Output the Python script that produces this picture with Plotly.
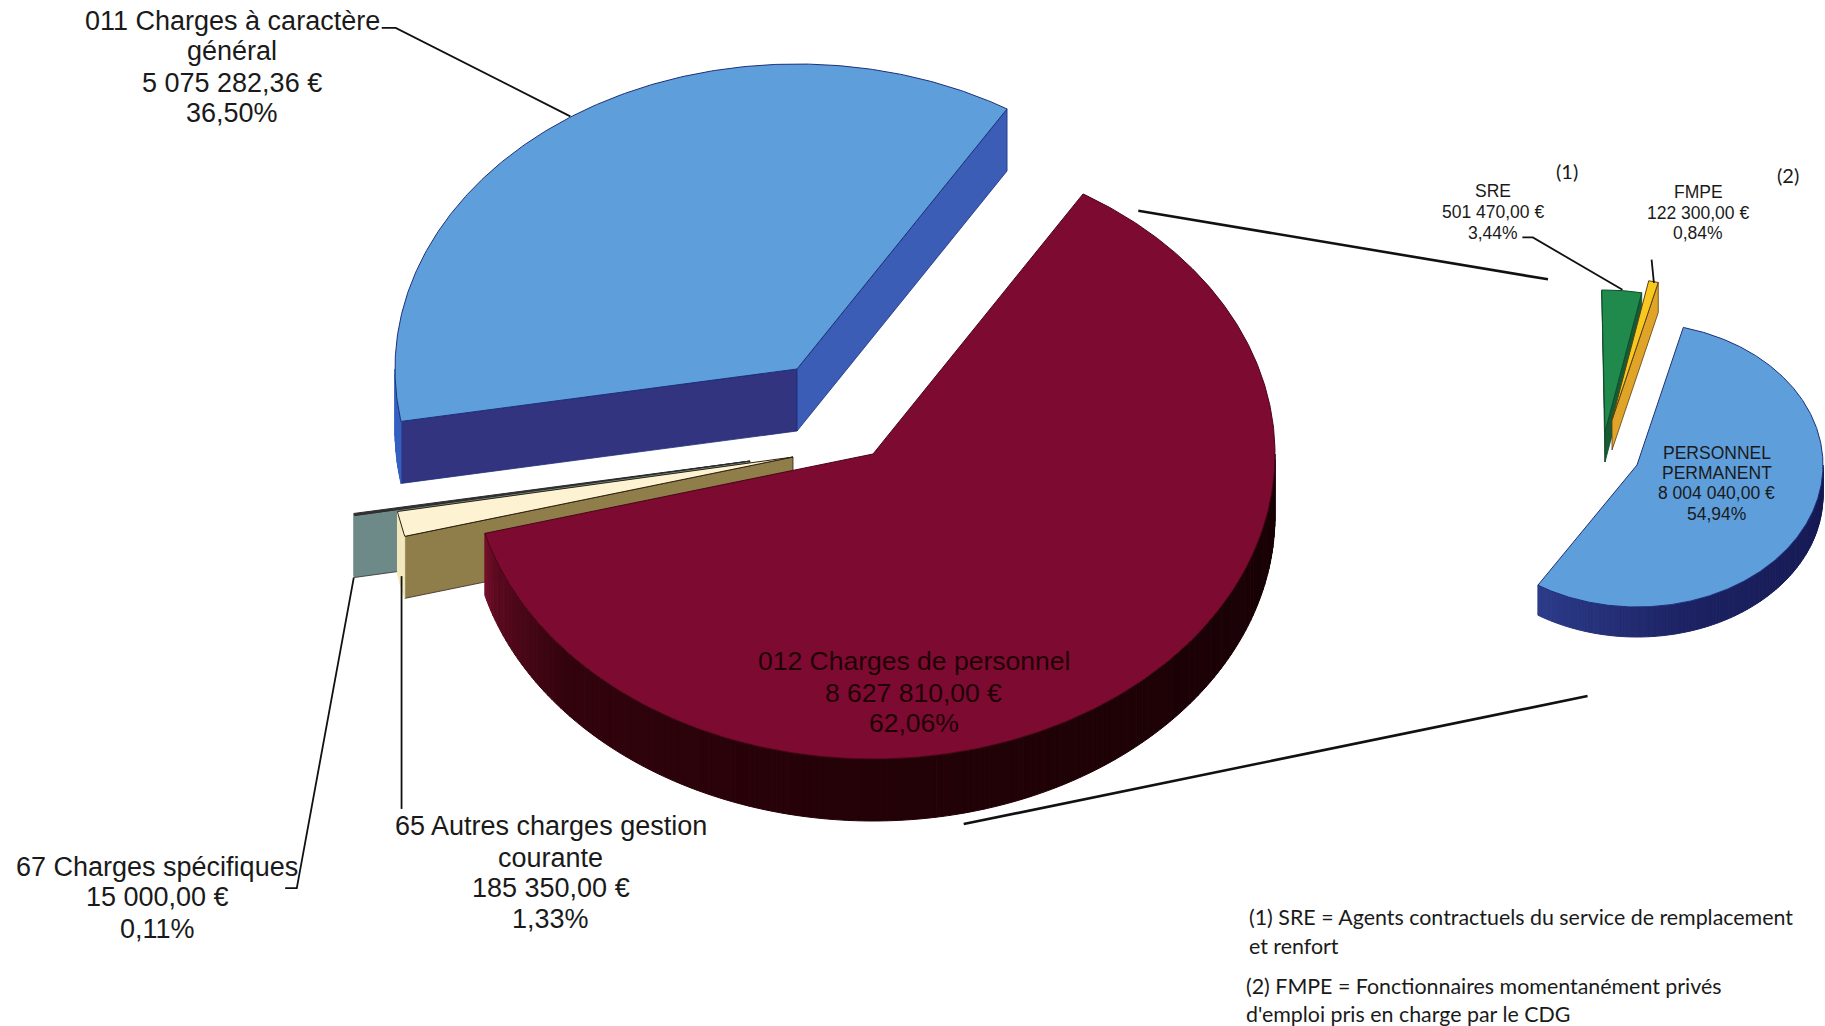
import numpy as np
import plotly.graph_objects as go
from plotly.colors import sample_colorscale

# ---- data (percent of total, as printed on the chart) ----
main_labels = ["012 Charges de personnel", "65 Autres charges gestion courante",
               "67 Charges spécifiques", "011 Charges à caractère général"]
main_values = [62.06, 1.33, 0.11, 36.50]
main_amounts = ["8 627 810,00 €", "185 350,00 €", "15 000,00 €", "5 075 282,36 €"]
sub_labels = ["SRE", "FMPE", "PERSONNEL PERMANENT"]
sub_values = [3.44, 0.84, 54.94]
sub_amounts = ["501 470,00 €", "122 300,00 €", "8 004 040,00 €"]

# ---- layout / style ----
W, H = 1825, 1026
S = 1825 / 1568  # overview units to page pixels
MAIN_R = (402, 305, 62)
SUB_R = (186, 142, 30)
MAIN_START = 31.5
SUB_START = -1.0

MAIN_STYLE = {
    "012 Charges de personnel": dict(apex=(873, 454), top="#7d0a30", edge="#4a0418", a0="#4a0418", a1="#4a0418",
        arc=[[0, "#170205"], [0.55, "#230207"], [0.85, "#33030d"], [0.97, "#5c0a20"], [1, "#75102c"]]),
    "65 Autres charges gestion courante": dict(apex=(793, 457), top="#fdf3d2", edge="#2d2010", a0="#8f7d4a", a1="#8f7d4a",
        arc=[[0, "#f4e8bc"], [1, "#f4e8bc"]]),
    "67 Charges spécifiques": dict(apex=(750, 461), top="#3a3030", edge="#2b2b2b", a0="#6d8a88", a1="#6d8a88",
        arc=[[0, "#6d8a88"], [1, "#6d8a88"]]),
    "011 Charges à caractère général": dict(apex=(797, 369), top="#5e9fdb", edge="#1d2f7a", a0="#323480", a1="#3b5db5",
        arc=[[0, "#3560c0"], [1, "#3560c0"]]),
}
SUB_STYLE = {
    "SRE": dict(apex=(1605, 432), top="#1f8a4b", edge="#0f4a2a", a0="#155c35", a1="#155c35",
        arc=[[0, "#155c35"], [1, "#155c35"]]),
    "FMPE": dict(apex=(1612, 420), top="#f8c81e", edge="#5a4010", a0="#e0a428", a1="#e0a428",
        arc=[[0, "#e0a428"], [1, "#e0a428"]]),
    "PERSONNEL PERMANENT": dict(apex=(1637, 465), top="#5e9edb", edge="#1d2f7a", a0="#2e3f8c", a1="#2e3f8c",
        arc=[[0, "#151850"], [0.6, "#1c2262"], [1, "#2c3c8a"]]),
}

fig = go.Figure()


def poly(xs, ys, fill, line=None, width=1):
    fig.add_trace(go.Scatter(
        x=list(xs), y=list(ys), mode="lines", fill="toself", fillcolor=fill,
        line=dict(color=line or fill, width=width), hoverinfo="skip", showlegend=False))


def edge_point(apex, radii, deg):
    t = np.radians(deg)
    return apex[0] + radii[0] * np.sin(t), apex[1] - radii[1] * np.cos(t)


def wedge(style, radii, a0, a1):
    apex = style["apex"]
    depth = radii[2]
    # radial walls, only when they face the viewer
    for ang, col, visible in ((a0, style["a0"], np.sin(np.radians(a0)) < 0),
                              (a1, style["a1"], np.sin(np.radians(a1)) > 0)):
        if visible:
            px, py = edge_point(apex, radii, ang)
            poly([apex[0], px, px, apex[0], apex[0]],
                 [apex[1], py, py + depth, apex[1] + depth, apex[1]], col, style["edge"], 0.8)
    # outer wall, front half of the ellipse only
    lo, hi = max(a0, 90), min(a1, 270)
    if hi > lo:
        steps = max(2, int(hi - lo) + 1)
        cuts = np.linspace(lo, hi, steps + 1)
        cols = sample_colorscale(style["arc"], [(i + 0.5) / steps for i in range(steps)])
        for i in range(steps):
            arc = np.linspace(cuts[i], cuts[i + 1], 3)
            px, py = edge_point(apex, radii, arc)
            poly(np.r_[px, px[::-1], px[0]], np.r_[py, py[::-1] + depth, py[0]], cols[i], cols[i], 1)
    # top face
    n = max(3, int((a1 - a0) * 2))
    arc = np.linspace(a0, a1, n)
    px, py = edge_point(apex, radii, arc)
    poly(np.r_[apex[0], px, apex[0]], np.r_[apex[1], py, apex[1]], style["top"], style["edge"], 1)


def spans(values, start):
    out, a = [], start
    for v in values:
        out.append((a, a + v * 3.6))
        a += v * 3.6
    return out


main_sp = dict(zip(main_labels, spans(main_values, MAIN_START)))
for name in ["67 Charges spécifiques", "65 Autres charges gestion courante",
             "011 Charges à caractère général", "012 Charges de personnel"]:
    wedge(MAIN_STYLE[name], MAIN_R, *main_sp[name])

sub_sp = dict(zip(sub_labels, spans(sub_values, SUB_START)))
for name in ["SRE", "FMPE", "PERSONNEL PERMANENT"]:
    wedge(SUB_STYLE[name], SUB_R, *sub_sp[name])

# ---- leader and connector lines (overview units) ----
LINES = [
    ([(328, 24), (340, 24), (490, 100)], 1.8),
    ([(304, 496), (255, 763), (245, 763)], 1.8),
    ([(345, 495), (345, 695)], 1.8),
    ([(1308, 204), (1317, 204), (1394, 249)], 1.8),
    ([(1419, 223), (1421, 243)], 1.8),
    ([(978, 181), (1330, 240)], 2.6),
    ([(828, 708), (1364, 598)], 2.6),
]
for pts, w in LINES:
    fig.add_trace(go.Scatter(x=[p[0] * S for p in pts], y=[p[1] * S for p in pts], mode="lines",
                             line=dict(color="#111111", width=w), hoverinfo="skip", showlegend=False))

# ---- text ----
ARIAL = "Liberation Sans"
SOFT = "Lato"


def pct(v):
    return f"{v:.2f}%".replace(".", ",")


def label(lines, x, ys, size, color="#1a1a1a", family=ARIAL, anchor="center"):
    for text, y in zip(lines, ys):
        fig.add_annotation(x=x * S, y=y * S, text=text, showarrow=False, xref="x", yref="y",
                           xanchor=anchor, yanchor="middle",
                           font=dict(family=family, size=size, color=color))


label(["011 Charges à caractère", "général", main_amounts[3], pct(main_values[3])], 199.5, [18, 44, 71, 97], 27)
label(["012 Charges de personnel", main_amounts[0], pct(main_values[0])], 785, [568, 595, 621], 26.5, color="#1f0208")
label(["65 Autres charges gestion", "courante", main_amounts[1], pct(main_values[1])], 473, [710, 737, 763, 790], 27)
label(["67 Charges spécifiques", main_amounts[2], pct(main_values[2])], 135, [745, 771, 798], 27)
label(["PERSONNEL", "PERMANENT", sub_amounts[2], pct(sub_values[2])], 1475, [389, 406, 424, 442], 17.5)
label(["SRE", sub_amounts[0], pct(sub_values[0])], 1283, [164, 182, 200], 17.5)
label(["FMPE", sub_amounts[1], pct(sub_values[1])], 1459, [165, 183, 200], 17.5)
label(["(1)"], 1346, [147], 20, family=SOFT)
label(["(2)"], 1536, [150], 20, family=SOFT)
label(["(1) SRE = Agents contractuels du service de remplacement", "et renfort"], 1071, [788, 813], 21.4,
      family=SOFT, anchor="left")
label(["(2) FMPE = Fonctionnaires momentanément privés", "d'emploi pris en charge par le CDG"], 1069, [847, 871], 21.4,
      family=SOFT, anchor="left")

fig.update_layout(
    width=W, height=H, margin=dict(l=0, r=0, t=0, b=0),
    paper_bgcolor="white", plot_bgcolor="white", showlegend=False,
    xaxis=dict(range=[0, W], visible=False, fixedrange=True),
    yaxis=dict(range=[H, 0], visible=False, fixedrange=True),
)
fig.write_html("out.html", config=dict(displayModeBar=False),
               post_script="document.body.style.margin='0';document.body.style.overflow='hidden';")
